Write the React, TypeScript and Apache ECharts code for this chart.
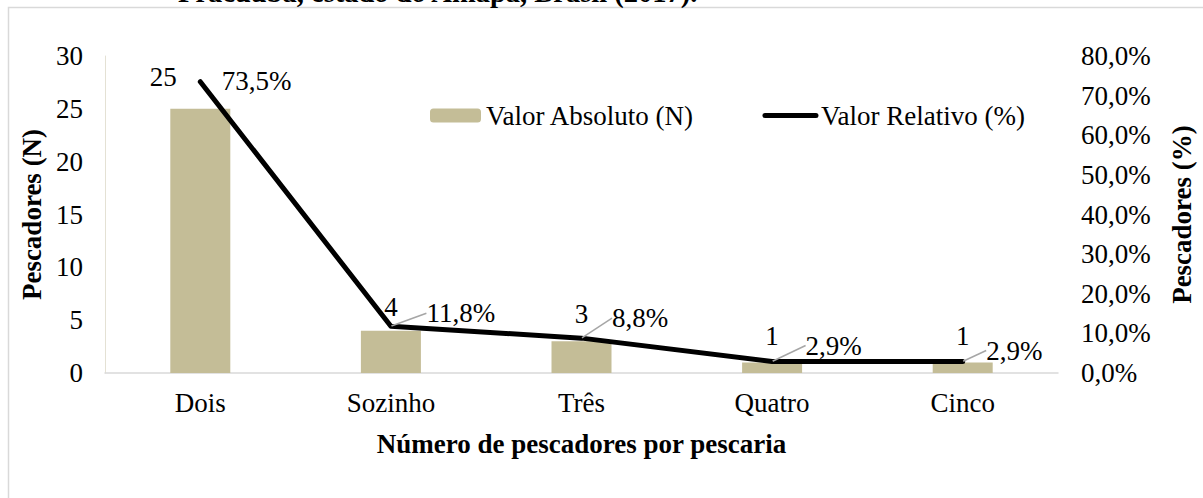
import React, { useEffect, useRef } from "react";
import * as echarts from "echarts";

const categories = ["Dois", "Sozinho", "Três", "Quatro", "Cinco"];
const absoluteValues = [25, 4, 3, 1, 1];
const relativeValues = [73.5, 11.8, 8.8, 2.9, 2.9];
const leftTicks = { min: 0, max: 30, interval: 5 };
const rightTicks = { min: 0, max: 80, interval: 10 };
const seriesNames = ["Valor Absoluto (N)", "Valor Relativo (%)"];
const titleText = "Pracuúba, estado do Amapá, Brasil (2017).";
const leftAxisName = "Pescadores (N)";
const rightAxisName = "Pescadores (%)";
const xAxisName = "Número de pescadores por pescaria";

// label nudges (style only)
const barLabelShift = [
  [-37, -13],
  [0, -5],
  [0, -9],
  [0, -8],
  [0, -8],
];
const lineLabelShift = [
  [21, -1],
  [35, -13],
  [30, -20],
  [33, -16],
  [23, -11],
];

const FONT = "'Liberation Serif', 'Times New Roman', serif";
const FS = 27;
const fmtPct = (v: number) => v.toFixed(1).replace(".", ",") + "%";

export default function App() {
  const ref = useRef<HTMLDivElement>(null);
  useEffect(() => {
    if (!ref.current) return;
    const chart = echarts.init(ref.current, null, { renderer: "svg" });
    chart.setOption({
      animation: false,
      backgroundColor: "#ffffff",
      textStyle: { fontFamily: FONT, color: "#000" },
      graphic: [
        {
          type: "rect",
          z: -1,
          shape: { x: 8.5, y: 7.5, width: 1220, height: 520 },
          style: { fill: "none", stroke: "#d9d9d9", lineWidth: 1.5 },
        },
        {
          type: "text",
          x: 178,
          y: 7,
          style: {
            text: titleText,
            fontFamily: FONT,
            fontWeight: "bold",
            fontSize: 28.5,
            fill: "#000",
            textVerticalAlign: "bottom",
          },
        },
      ],
      legend: {
        data: [
          { name: seriesNames[0] },
          {
            name: seriesNames[1],
            itemStyle: { opacity: 0, borderWidth: 0 },
            lineStyle: { width: 5, cap: "round", color: "#000" },
          },
        ],
        left: 425,
        top: 97,
        itemWidth: 51,
        itemHeight: 14,
        itemGap: 68,
        textStyle: { fontFamily: FONT, fontSize: FS, color: "#000" },
      },
      grid: { left: 105, right: 143, top: 56, bottom: 125 },
      xAxis: {
        type: "category",
        data: categories,
        axisTick: { show: false },
        axisLine: { lineStyle: { color: "#d9d9d9", width: 1.5 } },
        axisLabel: { fontFamily: FONT, fontSize: FS, color: "#000", margin: 16 },
        name: xAxisName,
        nameLocation: "middle",
        nameGap: 57,
        nameTextStyle: { fontFamily: FONT, fontSize: FS, fontWeight: "bold", color: "#000" },
      },
      yAxis: [
        {
          type: "value",
          ...leftTicks,
          splitLine: { show: false },
          axisLine: { show: true, lineStyle: { color: "#e4e1d4", width: 1 } },
          axisTick: { show: false },
          axisLabel: { fontFamily: FONT, fontSize: FS, color: "#000", margin: 22 },
          name: leftAxisName,
          nameLocation: "middle",
          nameRotate: 90,
          nameGap: 57,
          nameTextStyle: { fontFamily: FONT, fontSize: FS, fontWeight: "bold", color: "#000" },
        },
        {
          type: "value",
          ...rightTicks,
          position: "right",
          splitLine: { show: false },
          axisLine: { show: false },
          axisTick: { show: false },
          axisLabel: {
            fontFamily: FONT,
            fontSize: FS,
            color: "#000",
            margin: 23,
            formatter: (v: number) => fmtPct(v),
          },
          name: rightAxisName,
          nameLocation: "middle",
          nameRotate: 90,
          nameGap: 110,
          nameTextStyle: { fontFamily: FONT, fontSize: FS, fontWeight: "bold", color: "#000" },
        },
      ],
      series: [
        {
          name: seriesNames[0],
          type: "bar",
          yAxisIndex: 0,
          barWidth: 60,
          itemStyle: { color: "#c4bd97" },
          data: absoluteValues.map((v, i) => ({
            value: v,
            label: {
              show: true,
              position: "top",
              offset: barLabelShift[i],
              fontFamily: FONT,
              fontSize: FS,
              color: "#000",
            },
          })),
        },
        {
          name: seriesNames[1],
          type: "line",
          yAxisIndex: 1,
          symbol: "circle",
          symbolSize: 1,
          lineStyle: { color: "#000", width: 5, cap: "round", join: "round" },
          itemStyle: { color: "#000" },
          label: {
            show: true,
            position: "right",
            distance: 0,
            fontFamily: FONT,
            fontSize: FS,
            color: "#000",
            formatter: (p: any) => fmtPct(p.value),
          },
          labelLayout: (p: any) => ({
            dx: lineLabelShift[p.dataIndex][0],
            dy: lineLabelShift[p.dataIndex][1],
          }),
          labelLine: { show: true, lineStyle: { color: "#a6a6a6", width: 1.5 } },
          data: relativeValues.map((v, i) =>
            i === 0 ? { value: v, labelLine: { show: false } } : { value: v }
          ),
        },
      ],
    });
    return () => chart.dispose();
  }, []);
  return (
    <div
      ref={ref}
      style={{ position: "absolute", left: 0, top: 0, width: 1203, height: 498 }}
    />
  );
}
